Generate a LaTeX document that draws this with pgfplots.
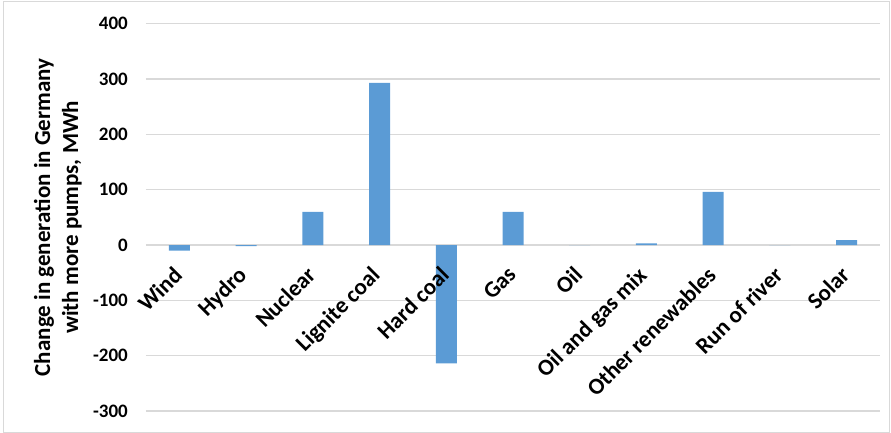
\documentclass[border=0pt]{standalone}
\usepackage{pgfplots}
\pgfplotsset{compat=1.18}
\usepackage{fontspec}
\setmainfont{Carlito}

\definecolor{barblue}{HTML}{5B9BD5}
\definecolor{gridgray}{HTML}{D9D9D9}

\newcommand{\cat}[1]{\rotatebox{45}{#1}}
\tikzset{catlabel/.style={font=\fontsize{23}{23}\selectfont\bfseries, anchor=north east, inner sep=0pt, xshift=4.5pt, yshift=-20pt}}

\begin{document}
\begin{tikzpicture}
\useasboundingbox (0pt,0pt) rectangle (891pt,433pt);
% chart area frame
\draw[gridgray, line width=0.8pt] (3.5pt,0.8pt) rectangle (889.5pt,431.5pt);
\begin{axis}[
  at={(146pt,22pt)}, anchor=south west,
  scale only axis, width=734pt, height=387.3pt,
  xmin=-0.5, xmax=10.5, ymin=-300, ymax=400,
  ytick={-300,-200,...,400},
  xtick={0,...,10},
  % the Hard coal label is set after the bars so that it lies on top of its bar
  xticklabels={\cat{Wind},\cat{Hydro},\cat{Nuclear},\cat{Lignite coal},{},\cat{Gas},\cat{Oil},\cat{Oil and gas mix},\cat{Other renewables},\cat{Run of river},\cat{Solar}},
  axis x line=middle, axis y line=left,
  hide obscured x ticks=false, hide obscured y ticks=false,
  x axis line style={-, draw=gridgray, line width=1.2pt},
  y axis line style={draw=none},
  ymajorgrids, grid style={gridgray, line width=1.2pt},
  major tick length=0pt,
  /pgf/number format/assume math mode=true,
  yticklabel style={font=\fontsize{19}{19}\selectfont\bfseries, anchor=east, inner sep=0pt, xshift=-18pt},
  xticklabel style={catlabel},
  ylabel={Change in generation in Germany\\with more pumps, MWh},
  ylabel style={at={(axis description cs:-0.12,0.5)}, anchor=center, align=center, font=\fontsize{23}{28}\selectfont\bfseries},
  ybar, bar width=21pt,
]
\addplot[fill=barblue, draw=none] coordinates {
  (0,-10) (1,-2) (2,60) (3,293) (4,-214) (5,60) (6,0) (7,3) (8,96) (9,0) (10,9)
};
\node[catlabel] at (axis cs:4,0) {\cat{Hard coal}};
\end{axis}
\end{tikzpicture}
\end{document}
